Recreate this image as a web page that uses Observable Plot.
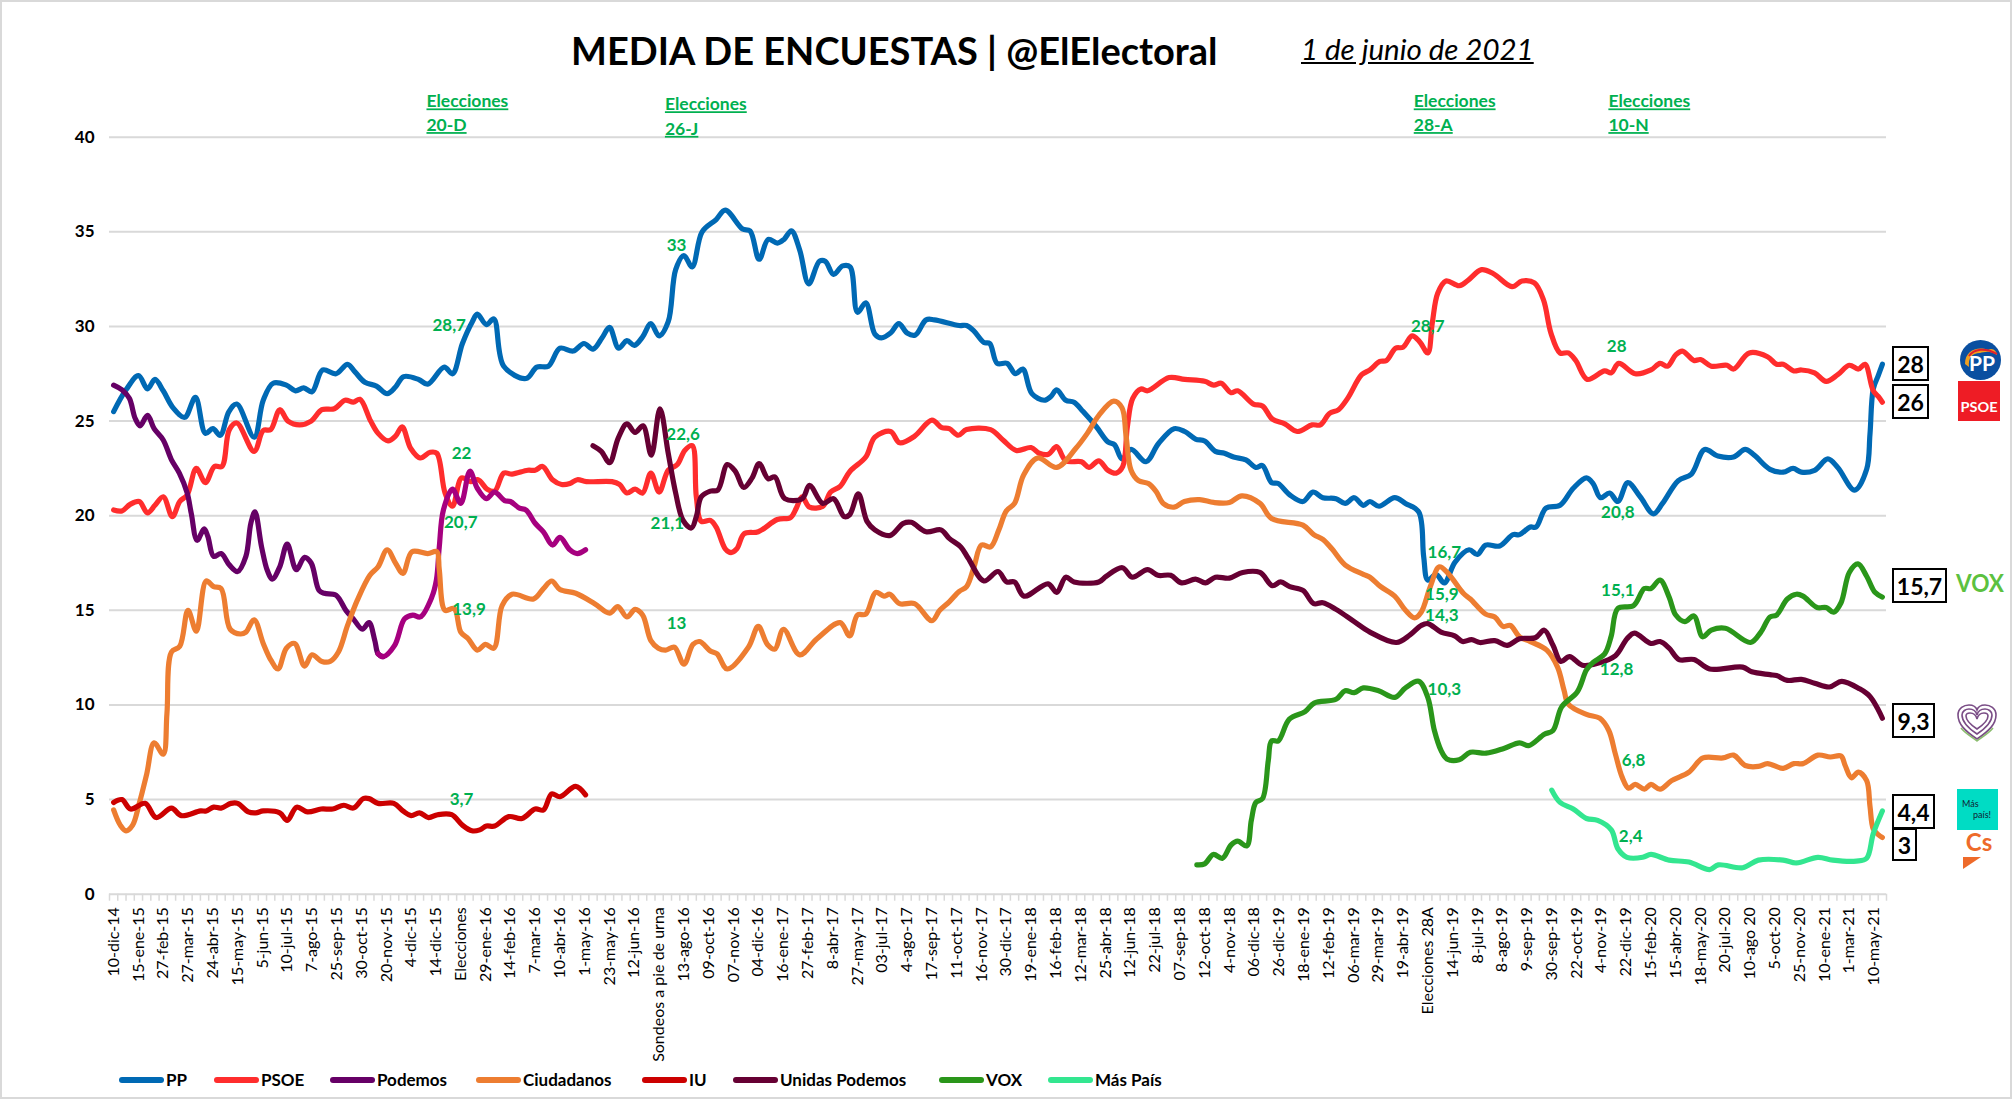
<!DOCTYPE html>
<html lang="es"><head><meta charset="utf-8">
<script src="https://cdn.jsdelivr.net/npm/d3@7"></script>
<script src="https://cdn.jsdelivr.net/npm/@observablehq/plot@0.6"></script>
<style>
html,body{margin:0;padding:0;background:#fff;overflow:hidden}
#page{position:relative;width:2013px;height:1099px;font-family:Lato,"Open Sans",sans-serif;color:#000}
#frame{position:absolute;left:0;top:0;width:2008px;height:1095px;border:2px solid #d9d9d9;pointer-events:none}
#head{position:relative;height:72px}
#title{position:absolute;left:571px;top:26px;font-size:38px;font-weight:700;line-height:48px;white-space:nowrap}
#date{position:absolute;left:1301px;top:29px;font-size:29.5px;font-style:italic;line-height:40px;text-decoration:underline;white-space:nowrap}
#chart svg{display:block}
.under text{text-decoration:underline}
#legend{position:absolute;left:0;top:1070px;width:2013px;height:20px}
.lk{position:absolute;top:7px;height:6px;border-radius:3px;width:45px}
.lt{position:absolute;top:0;font-size:17px;font-weight:700;line-height:20px;white-space:nowrap}
.box{position:absolute;box-sizing:border-box;border:2px solid #000;background:#fff;font-weight:700;font-size:23px;display:flex;align-items:center;justify-content:center}
.logo{position:absolute}
.logo svg{overflow:visible;display:block}
</style></head>
<body><div id="page">
<div id="head"><div id="title">MEDIA DE ENCUESTAS | @ElElectoral</div><div id="date">1 de junio de 2021</div></div>
<div id="chart"></div>
<div id="legend"></div>
<div id="ends"></div>
<div class="logo" style="left:1960px;top:340px;width:41px;height:40px"><svg width="41" height="40" viewBox="0 0 41 40"><ellipse cx="20.5" cy="20" rx="20.5" ry="20" fill="#0a4fa0"/><path d="M5 24C5 10 18 6 28 10C33 7 37 12 37 15C30 10 24 12 20 13C12 13 8 18 9 27Z" fill="#f0a020"/><path d="M9 16C14 9 25 7 37 14" stroke="#e0202a" stroke-width="2" fill="none"/><text x="22" y="31" text-anchor="middle" font-family="Lato" font-weight="700" font-size="21" fill="#fff">PP</text></svg></div>
<div class="logo" style="left:1958px;top:381px;width:42px;height:40px;background:#ee1c25"><svg width="42" height="40"><text x="21" y="31" text-anchor="middle" font-family="Lato" font-weight="700" font-size="14" fill="#fff" textLength="37" lengthAdjust="spacingAndGlyphs">PSOE</text></svg></div>
<div class="logo" style="left:1955px;top:566px;width:50px;height:34px"><svg width="50" height="34"><text x="25" y="26" text-anchor="middle" font-family="Lato" font-weight="700" font-size="24" fill="#5cc13f" textLength="48" lengthAdjust="spacingAndGlyphs">VOX</text></svg></div>
<div class="logo" style="left:1957px;top:704px;width:40px;height:38px"><svg width="40" height="38" viewBox="0 0 40 38" fill="none"><path d="M20 35C8 27 1 20 1 11C1 4 7 1 12 1C16 1 19 3 20 6C21 3 24 1 28 1C33 1 39 4 39 11C39 20 32 27 20 35Z" stroke="#7a4d86" stroke-width="1.6"/><path d="M20 30C11 24 5 18 5 11C5 7 9 5 12 5C16 5 19 7 20 11C21 7 24 5 28 5C31 5 35 7 35 11C35 18 29 24 20 30Z" stroke="#7a4d86" stroke-width="1.6"/><path d="M20 25C14 21 9 16 9 12C9 10 11 9 13 9C16 9 19 11 20 15C21 11 24 9 27 9C29 9 31 10 31 12C31 16 26 21 20 25Z" stroke="#7a4d86" stroke-width="1.6"/><path d="M4 24C9 30 15 33 20 37C25 33 31 30 36 24" stroke="#8bbd6e" stroke-width="1.6"/></svg></div>
<div class="logo" style="left:1957px;top:789px;width:41px;height:41px;background:#00dcc4"><svg width="41" height="41"><text x="5" y="18" font-family="Lato" font-size="9" fill="#123">Más</text><text x="16" y="29" font-family="Lato" font-size="9" fill="#123">país!</text></svg></div>
<div class="logo" style="left:1961px;top:830px;width:36px;height:40px"><svg width="36" height="40"><text x="18" y="21" text-anchor="middle" font-family="Lato" font-weight="700" font-size="24" fill="#ee6a2a">Cs</text><path d="M2 27H20L2 39Z" fill="#ee6a2a"/></svg></div>
<div id="frame"></div>
</div>
<script>
const tickLabels = ["10-dic-14","15-ene-15","27-feb-15","27-mar-15","24-abr-15","15-may-15","5-jun-15","10-jul-15","7-ago-15","25-sep-15","30-oct-15","20-nov-15","4-dic-15","14-dic-15","Elecciones","29-ene-16","14-feb-16","7-mar-16","10-abr-16","1-may-16","23-may-16","12-jun-16","Sondeos a pie de urna","13-ago-16","09-oct-16","07-nov-16","04-dic-16","16-ene-17","27-feb-17","8-abr-17","27-may-17","03-jul-17","4-ago-17","17-sep-17","11-oct-17","16-nov-17","30-dic-17","19-ene-18","16-feb-18","12-mar-18","25-abr-18","12-jun-18","22-jul-18","07-sep-18","12-oct-18","4-nov-18","06-dic-18","26-dic-19","18-ene-19","12-feb-19","06-mar-19","29-mar-19","19-abr-19","Elecciones 28A","14-jun-19","8-jul-19","8-ago-19","9-sep-19","30-sep-19","22-oct-19","4-nov-19","22-dic-19","15-feb-20","15-abr-20","18-may-20","20-jul-20","10-ago 20","5-oct-20","25-nov-20","10-ene-21","1-mar-21","10-may-21"];
const yTicks = [0,5,10,15,20,25,30,35,40];

const pp = [[0,25.5],[1.5,26.65],[3,27.4],[4.1,26.7],[5,27.2],[6,26.6],[7.2,25.7],[8.6,25.2],[9.9,26.25],[11.1,24.35],[12,24.6],[12.9,24.25],[13.95,25.5],[14.9,25.9],[17,24.15],[18.1,26.1],[19.3,27],[20.9,26.9],[22,26.6],[23,26.75],[24,26.55],[25.3,27.7],[26.9,27.5],[28.3,28],[29.2,27.6],[30.4,27.05],[31.8,26.85],[33.1,26.45],[34.1,26.8],[35.1,27.35],[36.9,27.2],[38,26.95],[40,27.85],[41,27.5],[42.2,29.1],[43.4,30.25],[44,30.65],[45.1,30.1],[46,30.4],[47.2,27.9],[49.9,27.25],[51.2,27.85],[52.6,27.9],[54,28.85],[55.6,28.7],[56.9,29.1],[58,28.8],[59.1,29.4],[60,29.95],[61.1,28.85],[62.1,29.25],[63,29],[64,29.45],[65,30.15],[66,29.5],[67.1,30.25],[68,33],[69,33.75],[70,33.15],[71.2,35],[72.9,35.65],[74,36.15],[76.1,35.15],[77,35.05],[78.1,33.55],[79.2,34.6],[80.3,34.4],[81.1,34.6],[82,35.05],[83,34.05],[84.1,32.25],[85.4,33.45],[86.1,33.45],[87.1,32.75],[88.2,33.2],[89.1,33.15],[90,30.75],[91,31.25],[92.1,29.6],[92.9,29.4],[94,29.65],[95,30.15],[96,29.65],[97,29.55],[98.3,30.35],[99.3,30.35],[102.3,30.05],[103.2,30.05],[104.1,29.75],[105.3,29.15],[106,29.1],[106.9,28.05],[108.1,28.05],[109.1,27.5],[110,27.75],[111.1,26.45],[112.6,26.1],[113.4,26.3],[114.1,26.65],[115.2,26.1],[116.2,26],[117.3,25.5],[118.9,24.7],[120.3,23.9],[121.1,23.75],[122,23],[123.1,23.5],[124.9,22.85],[126.4,23.8],[128.3,24.6],[129.6,24.45],[130.9,24.05],[132,23.95],[133.3,23.4],[134.4,23.3],[135.5,23.1],[137,22.95],[138.2,22.55],[139,22.65],[140.1,21.75],[140.9,21.7],[142.3,21.1],[143.9,20.75],[145.1,21.25],[146.3,20.95],[147.9,20.9],[149,20.65],[150.1,20.95],[151.2,20.55],[152,20.75],[153.1,20.5],[155,20.95],[156.3,20.65],[157.9,20.2],[158.5,17.85],[159,16.6],[160,16.9],[161,16.45],[162.3,17.55],[164,18.2],[165,17.95],[166,18.45],[167.7,18.4],[169.3,19],[170.1,19],[171.4,19.4],[172.1,19.4],[173.3,20.4],[175,20.55],[176.6,21.45],[178.2,22],[179,21.7],[179.9,20.95],[181,21.2],[182,20.75],[183.2,21.75],[184.7,21],[186.3,20.1],[187.4,20.65],[189.3,21.85],[190.9,22.2],[192.5,23.5],[194.1,23.15],[196,23.1],[197.4,23.5],[198.5,23.2],[200.4,22.45],[202,22.3],[203.2,22.5],[204.2,22.3],[205.8,22.4],[207.4,23],[208.6,22.55],[210.65,21.35],[212.1,22.45],[212.5,24.3],[212.9,26.7],[213.5,27.4],[214,28]];

const psoe = [[0,20.3],[1,20.25],[2,20.6],[3.1,20.75],[4.1,20.15],[5,20.55],[6,21],[7.1,19.95],[8,20.75],[8.9,21.1],[10,22.5],[11.1,21.75],[12.2,22.6],[13.1,22.6],[14,24.55],[14.9,24.9],[17,23.4],[18.1,24.5],[19,24.55],[20.1,25.6],[21.1,25],[22.5,24.8],[23.9,25],[25.2,25.6],[26.7,25.65],[28,26.1],[29,26],[29.8,26.15],[31.1,25],[32,24.35],[33.2,23.95],[34.1,24.2],[34.9,24.7],[35.95,23.55],[37.1,23.05],[38.3,23.35],[39.1,23.3],[40.1,21.2],[41,20.5],[42.1,22],[43.2,21.8],[44.1,21.9],[45.2,21.4],[46.1,21.3],[47.2,22.25],[48.2,22.2],[50.1,22.4],[51,22.4],[51.9,22.6],[53.1,21.9],[54.2,21.65],[55.2,21.7],[56.1,21.9],[57.2,21.8],[60.3,21.8],[61.2,21.65],[62.1,21.2],[63.1,21.4],[64,21.2],[65,22.25],[66,21.25],[67.1,22.4],[68.2,22.7],[69.1,23.45],[70,23.7],[70.5,21],[71.1,19.7],[72.2,19.75],[72.9,19.4],[74,18.25],[74.7,18.05],[75.4,18.25],[76.3,19.05],[78,19.15],[80.3,19.8],[81.9,19.9],[82.6,20.4],[83.3,21],[84.2,20.45],[85.8,20.5],[86.75,21.25],[87.9,21.55],[89.1,22.35],[91,23.1],[92.1,24.15],[94,24.45],[95.1,23.85],[96.9,24.2],[99,25.05],[100.2,24.65],[101.1,24.6],[102.2,24.25],[103.2,24.55],[106.1,24.55],[107.6,24],[109.2,23.45],[111,23.6],[112,23.3],[113.1,23.25],[114.1,23.65],[115.2,22.9],[117.1,22.85],[118,22.55],[119.2,22.9],[120.3,22.4],[121.3,22.25],[122.1,22.6],[122.65,24.7],[123.3,26.2],[124.3,26.7],[125.1,26.6],[127.7,27.3],[129.6,27.2],[132,27.1],[133.1,26.9],[134,27],[135.2,26.5],[136,26.6],[137.9,25.9],[139,25.8],[140.2,25.1],[141.7,24.85],[143.2,24.45],[145,24.8],[146,24.8],[147.1,25.4],[148.2,25.6],[149.3,26.2],[151,27.45],[152,27.7],[153.2,28.15],[154,28.2],[155.1,28.85],[156,28.9],[157.1,29.5],[158,29.2],[159,28.6],[159.55,30.2],[160.2,31.75],[161.2,32.4],[162.8,32.15],[163.9,32.45],[165.5,33],[166.9,32.8],[169.2,32.1],[170.4,32.4],[171.9,32.3],[173,31.4],[173.9,29.65],[175,28.6],[176,28.6],[176.9,28.2],[178.3,27.2],[180.4,27.65],[181.2,27.55],[182.1,28.05],[184.1,27.5],[186,27.7],[187.1,28.05],[188,27.9],[189,28.5],[189.8,28.7],[191.2,28.2],[192,28.25],[193.3,27.9],[195.2,27.95],[196,27.75],[197.9,28.6],[200.1,28.4],[201.2,28],[202,28],[203.3,27.65],[204.2,27.7],[205.8,27.55],[207.2,27.1],[208.6,27.45],[210,27.95],[211.1,27.75],[211.9,28],[212.9,26.6],[213.5,26.3],[214,26]];

const podemos = [[0,26.9],[1,26.65],[1.9,26.2],[2.6,25.15],[3.2,24.75],[4.1,25.3],[4.9,24.6],[6,24],[7,22.95],[7.95,22.25],[8.9,21.2],[9.4,20.1],[10.1,18.7],[10.95,19.3],[11.4,18.9],[12.1,17.85],[13,18],[14,17.4],[15,17.05],[16,17.85],[16.6,19.6],[17.1,20.2],[17.9,18.35],[18.6,17.1],[19.2,16.65],[20.1,17.3],[21,18.5],[22.1,17.15],[23.1,17.8],[23.9,17.5],[24.85,16.05],[25.5,15.9],[26.9,15.8],[28.1,15],[29,14.55],[30.1,14],[30.9,14.35],[31.6,13.4],[32,12.7],[32.6,12.55],[34,13.15],[35.2,14.55],[36.2,14.75],[37.1,14.65],[38.5,15.7],[39.05,16.6],[39.4,18.35],[39.9,20.3],[41,21.4],[42,20.65],[43.1,22.35],[44,21.45],[45.1,20.9],[46.1,21.25],[47.3,20.8],[48,20.75],[49.1,20.4],[49.9,20.3],[51,19.6],[52,19.15],[53.1,18.45],[54,18.85],[55.2,18.2],[56.1,18],[57.1,18.2]];

const ciudadanos = [[0,4.45],[0.8,3.65],[1.5,3.35],[2.3,3.65],[3.1,4.8],[4,6.35],[4.9,8],[6,7.4],[6.45,9.55],[7,12.8],[8,13.1],[9,15],[10,13.9],[11.2,16.55],[12.1,16.25],[13,16.15],[14.1,14],[15.35,13.75],[16,13.85],[17,14.5],[18.1,13.25],[19.05,12.35],[19.9,11.9],[20.9,13],[21.9,13.25],[23.1,12.05],[24,12.65],[25.2,12.3],[26.2,12.3],[27.2,12.8],[28.3,14.2],[29.5,15.55],[31,16.85],[32,17.3],[33.1,18.2],[34.1,17.5],[35,16.95],[36.1,18.1],[38,18],[39.1,18.1],[39.4,17.15],[40.1,15],[41.2,15.1],[42,13.85],[42.9,13.5],[44,12.9],[45,13.2],[46,13],[47,15.25],[48.2,15.85],[50.8,15.6],[52,16.15],[53,16.55],[54,16.1],[55.9,15.9],[58.2,15.35],[60,14.85],[61,15.2],[62.1,14.65],[63.1,15.05],[64,14.75],[65,13.4],[65.9,13],[66.8,12.9],[67.85,13.05],[69,12.15],[70.1,13.2],[70.9,13.35],[72.2,12.85],[73,12.7],[74.25,11.9],[76.8,13.05],[78,14.15],[79.1,13.2],[80,12.95],[81.05,14],[83,12.65],[85.1,13.5],[87.9,14.35],[89.05,13.65],[90,14.75],[91,14.8],[92.2,15.95],[93.2,15.75],[93.9,15.85],[95.1,15.35],[96.9,15.35],[99,14.45],[99.95,15],[101.1,15.45],[102.3,16],[103.2,16.25],[104.1,17.3],[105,18.45],[106.1,18.35],[107.1,19.25],[108,20.25],[109,20.65],[110.1,22.15],[111.8,23.05],[114.1,22.55],[116.4,23.55],[117.8,24.35],[119.2,25.3],[121,26.05],[122,25.7],[122.5,24.2],[123.1,22.4],[124,21.85],[125.2,21.7],[126.1,21.3],[127,20.65],[128.3,20.45],[129.55,20.75],[131.4,20.85],[133.1,20.7],[135,20.7],[136.5,21.05],[138.7,20.65],[140.1,19.85],[143.9,19.5],[145.2,19],[146.3,18.75],[147.4,18.25],[149,17.4],[151.2,16.9],[152,16.75],[153.3,16.25],[155,15.75],[156.3,15],[157.4,14.6],[158.2,14.9],[159.3,16.25],[160.4,17.3],[161.45,16.95],[163.3,15.9],[164.15,15.6],[166,14.8],[167.1,14.65],[168.1,14.15],[169,14.2],[170.1,13.6],[171.4,13.35],[173.4,12.9],[174.7,12],[175.5,10.75],[176,10.05],[178.2,9.5],[179.8,9.3],[180.9,8.65],[181.7,7.4],[182.5,6.2],[183.3,5.6],[184.1,5.8],[185.2,5.55],[186,5.8],[187.1,5.55],[188.5,6],[190.6,6.45],[192.3,7.2],[194.7,7.2],[196,7.35],[197.4,6.8],[199,6.75],[200.1,6.9],[202,6.65],[203.3,6.9],[204.4,6.9],[206.2,7.35],[207.7,7.25],[209,7.3],[209.5,6.8],[210.25,6.15],[211.1,6.45],[212.1,6],[212.5,4.65],[212.9,3.45],[213.5,3.15],[214,3]];

const iu = [[0,4.85],[1,5],[2.05,4.5],[3.8,4.8],[5.15,4.05],[7,4.55],[8.2,4.15],[10.5,4.4],[11.2,4.4],[12.1,4.6],[13,4.55],[14.2,4.8],[15,4.8],[16.3,4.35],[17.2,4.3],[18.1,4.4],[20.1,4.3],[21,3.9],[22.15,4.6],[23.45,4.35],[25.1,4.5],[26.5,4.5],[27.85,4.7],[29,4.55],[30.2,5.05],[30.9,5.05],[32,4.8],[33.9,4.8],[35,4.4],[36,4.15],[37,4.3],[38.1,4.05],[39.2,4.2],[40.9,4.2],[42.2,3.65],[43.35,3.35],[44.3,3.4],[45.1,3.6],[46.1,3.6],[47.8,4.1],[49.4,4],[51,4.5],[52,4.45],[53,5.3],[54,5.15],[55.9,5.7],[57.1,5.25]];

const unidasPodemos = [[58,23.7],[59,23.4],[60,22.8],[61.05,24.1],[62.1,24.85],[63.1,24.4],[64.05,24.75],[65.05,23.2],[66.1,25.65],[67.1,23.3],[68,21.2],[68.9,19.75],[69.9,19.35],[70.5,19.95],[71.1,21],[72.2,21.3],[73.1,21.35],[74.25,22.7],[75.2,22.35],[76.25,21.5],[77.25,22],[78.1,22.75],[79.2,21.95],[80,22.05],[81.2,20.9],[83.3,20.9],[84.2,21.6],[85.8,20.65],[87.1,20.9],[88.4,19.95],[89.05,20.05],[90.1,21.15],[91.15,19.7],[92.1,19.25],[93.9,18.95],[95.55,19.6],[96.5,19.65],[98.3,19.15],[100.1,19.25],[101.1,18.8],[102.5,18.35],[103.4,17.75],[105.3,16.55],[107,17.05],[108.05,16.5],[109,16.5],[110.15,15.75],[113.05,16.4],[114.1,15.95],[115.2,16.75],[116.2,16.5],[119.2,16.5],[120.1,16.8],[122.05,17.25],[123.25,16.75],[125.1,17.15],[126.35,16.85],[127.9,16.85],[129.2,16.45],[130.9,16.65],[132.1,16.45],[133.3,16.75],[135,16.7],[136.6,17],[138.7,17],[140.2,16.3],[141.2,16.5],[142.3,16.25],[143.9,16.05],[145.2,15.35],[146.3,15.4],[147.9,15.05],[150.1,14.4],[152,13.85],[155.2,13.3],[156.85,13.7],[158.2,14.2],[159,14.3],[160.6,13.85],[162.25,13.65],[163.2,13.35],[164.3,13.45],[165.3,13.3],[167.1,13.4],[168.6,13.15],[170.1,13.5],[172,13.55],[173.1,13.95],[174.15,13.15],[175.1,12.3],[176.15,12.55],[177.7,12.1],[179.55,12.2],[181.7,12.6],[183.1,13.5],[184,13.8],[186,13.25],[187.1,13.35],[188.2,13],[189.4,12.4],[191.2,12.4],[193.1,11.9],[197.1,12],[198.2,11.75],[200.4,11.6],[201.2,11.55],[202.5,11.3],[204.2,11.35],[205.8,11.15],[207.6,10.95],[209.1,11.25],[211.25,10.85],[212.5,10.45],[213.5,9.75],[214,9.3]];

const vox = [[131.05,1.55],[132,1.6],[133.05,2.1],[134.15,1.9],[135.2,2.6],[136,2.8],[137.1,2.55],[137.65,3.9],[138.2,4.85],[139,5.05],[139.7,7.05],[140.1,8.1],[140.9,8.1],[142.25,9.25],[144.15,9.65],[145.25,10.1],[147.9,10.3],[149,10.75],[150.1,10.65],[151.2,10.9],[153.05,10.75],[155,10.4],[156.3,10.9],[157.9,11.25],[159,10.4],[159.8,8.65],[160.6,7.6],[161.3,7.15],[162.8,7.1],[164.15,7.5],[166.05,7.45],[168.2,7.7],[170.1,8],[171.2,7.85],[173.1,8.45],[174.15,8.65],[175.2,9.9],[177.1,10.7],[178.2,11.85],[179,12.25],[180.4,12.7],[181.2,13.65],[182,15.1],[183.9,15.25],[185.2,16.15],[186,16.15],[187.1,16.6],[188.2,15.7],[189,14.75],[190.1,14.4],[191.2,14.7],[192.25,13.6],[193.3,13.95],[195,14.05],[198.05,13.3],[199.3,13.85],[200.4,14.65],[201.2,14.75],[202.5,15.6],[203.6,15.85],[204.4,15.75],[206.1,15.15],[207.2,15.15],[208.1,14.9],[209,15.4],[210,17],[211.05,17.45],[212.1,16.8],[213.1,15.95],[214,15.7]];

const masPais = [[174,5.5],[175,4.85],[176.6,4.5],[178.2,4],[179.55,3.9],[181.2,3.4],[182,2.4],[183.1,1.95],[185,1.95],[186,2.1],[188.2,1.8],[190.6,1.7],[193.1,1.3],[194.15,1.55],[197.1,1.4],[199,1.8],[202,1.8],[203.6,1.65],[206.2,1.95],[208,1.8],[210.85,1.75],[212.1,1.9],[212.9,3.2],[214,4.4]];

const seriesNames = ["PP","PSOE","Podemos","Ciudadanos","IU","Unidas Podemos","VOX","Más País"];
const seriesColors = ["#0069b4","#ff2d2d","#660066","#ed7d31","#cc0000","#660033","#2a961a","#33e690"];
const seriesData = [pp,psoe,podemos,ciudadanos,iu,unidasPodemos,vox,masPais];
const podemosLate = "#a6007f";

const electionTexts = ["Elecciones","20-D","Elecciones","26-J","Elecciones","28-A","Elecciones","10-N"];
const electionIdx = [37.85,37.85,66.7,66.7,157.3,157.3,180.85,180.85];
const electionY = [41.87,40.62,41.72,40.42,41.87,40.62,41.87,40.62];

const noteTexts = ["28,7","22","20,7","13,9","3,7","33","22,6","21,1","13","28,7","28","20,8","16,7","15,9","14,3","10,3","15,1","12,8","6,8","2,4"];
const noteIdx = [40.6,42.1,42,43,42.1,68.1,68.9,67,68.1,159,181.85,182,161,160.7,160.7,161,182,181.85,183.9,183.55];
const noteY = [30.05,23.3,19.65,15.05,5,34.3,24.3,19.6,14.3,30,28.95,20.15,18.05,15.85,14.7,10.8,16.05,11.85,7.05,3.05];

const endTexts = ["28","26","15,7","9,3","4,4","3"];
const endBoxes = [[1892,346,37,35],[1892,384,37,35],[1892,568,55,35],[1892,703,43,35],[1892,794,43,35],[1892,828,25,33]];
const legendPos = [119,214,330,476,642,733,939,1048];

const line = (data,color) => Plot.line(data,{x:d=>d[0],y:d=>d[1],stroke:color,strokeWidth:5.2,curve:"catmull-rom",strokeLinecap:"round",strokeLinejoin:"round"});
const layers = seriesData.flatMap((data,i)=>{
  if (data===podemos) return [line(data.filter(d=>d[0]<=32.6),seriesColors[i]),line(data.filter(d=>d[0]>=32),podemosLate)];
  return [line(data,seriesColors[i])];
});

const chart = Plot.plot({
  width:2013,height:1000,marginLeft:109,marginRight:127,marginTop:64.7,marginBottom:178.3,
  x:{domain:[-0.5,214.5]},y:{domain:[0,40]},
  style:{fontFamily:"Lato, sans-serif",background:"transparent",overflow:"visible"},
  marks:[
    Plot.ruleY(yTicks,{stroke:"#d9d9d9",strokeWidth:2}),
    Plot.axisX({ticks:d3.range(-0.5,215,1),tickSize:7,stroke:"#d9d9d9",strokeWidth:1.5,tickFormat:()=>"",label:null}),
    Plot.axisX({ticks:tickLabels.map((_,i)=>i*3),tickFormat:v=>tickLabels[v/3],tickSize:0,tickPadding:13,tickRotate:-90,fontSize:16,fill:"#000",label:null}),
    Plot.axisY({ticks:yTicks,tickSize:0,tickPadding:15,fontSize:17,fontWeight:700,fill:"#000",label:null}),
    ...layers,
    Plot.text(noteTexts,{x:(d,i)=>noteIdx[i],y:(d,i)=>noteY[i],text:d=>d,fill:"#00b050",fontSize:17,fontWeight:700}),
    Plot.text(electionTexts,{x:(d,i)=>electionIdx[i],y:(d,i)=>electionY[i],text:d=>d,fill:"#00b050",fontSize:17.5,fontWeight:700,textAnchor:"start",className:"under"})
  ]
});
document.getElementById("chart").appendChild(chart);

const legend = document.getElementById("legend");
seriesNames.forEach((n,i)=>{
  const k=document.createElement("div");k.className="lk";k.style.left=legendPos[i]+"px";k.style.background=seriesColors[i];
  const t=document.createElement("div");t.className="lt";t.style.left=(legendPos[i]+47)+"px";t.textContent=n;
  legend.append(k,t);
});
const ends=document.getElementById("ends");
endTexts.forEach((s,i)=>{
  const [l,tp,w,h]=endBoxes[i];
  const b=document.createElement("div");b.className="box";b.textContent=s;
  Object.assign(b.style,{left:l+"px",top:tp+"px",width:w+"px",height:h+"px"});
  ends.append(b);
});
</script>
</body></html>
